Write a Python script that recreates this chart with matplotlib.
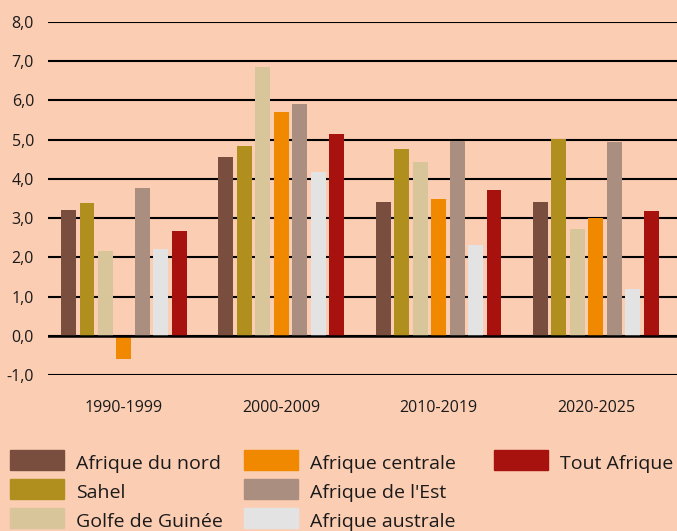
import numpy as np
import matplotlib.pyplot as plt
from matplotlib.patches import Rectangle

plt.rcParams['font.family'] = ['Open Sans', 'DejaVu Sans']

periods = ['1990-1999', '2000-2009', '2010-2019', '2020-2025']
regions = ['Afrique du nord', 'Sahel', 'Golfe de Guinée', 'Afrique centrale',
           "Afrique de l'Est", 'Afrique australe', 'Tout Afrique']
colors = ['#7a4e3e', '#b08f1e', '#d8c69a', '#f08800', '#aa8f80', '#e3e3e3', '#a8120e']

nord = [3.20, 4.56, 3.42, 3.42]
sahel = [3.38, 4.85, 4.75, 5.02]
golfe = [2.17, 6.84, 4.43, 2.73]
centrale = [-0.59, 5.71, 3.49, 3.00]
est = [3.78, 5.92, 4.97, 4.93]
australe = [2.21, 4.18, 2.32, 1.20]
tout = [2.66, 5.15, 3.71, 3.18]
series = [nord, sahel, golfe, centrale, est, australe, tout]

bg = '#fbcdb3'
fig = plt.figure(figsize=(6.77, 5.31), dpi=100, facecolor=bg)
ax = fig.add_axes([48 / 677, 156 / 531, 629 / 677, 353 / 531])
ax.set_facecolor(bg)

x = np.arange(len(periods))
step = 0.1175
width = 0.095
for i, (vals, c) in enumerate(zip(series, colors)):
    ax.bar(x + (i - 3) * step, vals, width, color=c, zorder=3)

ax.set_ylim(-1, 8)
ax.set_xlim(-0.483, 3.516)
ax.set_yticks(np.arange(-1, 9))
ax.set_yticklabels([('%.1f' % v).replace('.', ',') for v in np.arange(-1, 9)])
ax.yaxis.grid(True, color='black', linewidth=1.5, zorder=1)
ax.axhline(0, color='black', linewidth=1.8, zorder=4)
for s in ax.spines.values():
    s.set_visible(False)
ax.tick_params(axis='both', length=0, labelsize=11.5, colors='#1a1a1a')
ax.tick_params(axis='y', pad=10)
ax.set_xticks(x)
ax.set_xticklabels(periods)
ax.tick_params(axis='x', pad=18)

# legende en trois colonnes
col_x = [10, 244, 494]
row_y = [460, 489, 518]
for i, (name, c) in enumerate(zip(regions, colors)):
    col, row = divmod(i, 3)
    x0 = col_x[col]
    y0 = row_y[row]
    fig.patches.append(Rectangle((x0 / 677, 1 - (y0 + 10) / 531), 54 / 677, 20 / 531,
                                 transform=fig.transFigure, color=c))
    fig.text((x0 + 66) / 677, 1 - (y0 + 4) / 531, name, fontsize=14,
             va='center', ha='left', color='#1a1a1a')

fig.savefig('out.png', dpi=100, facecolor=bg)
